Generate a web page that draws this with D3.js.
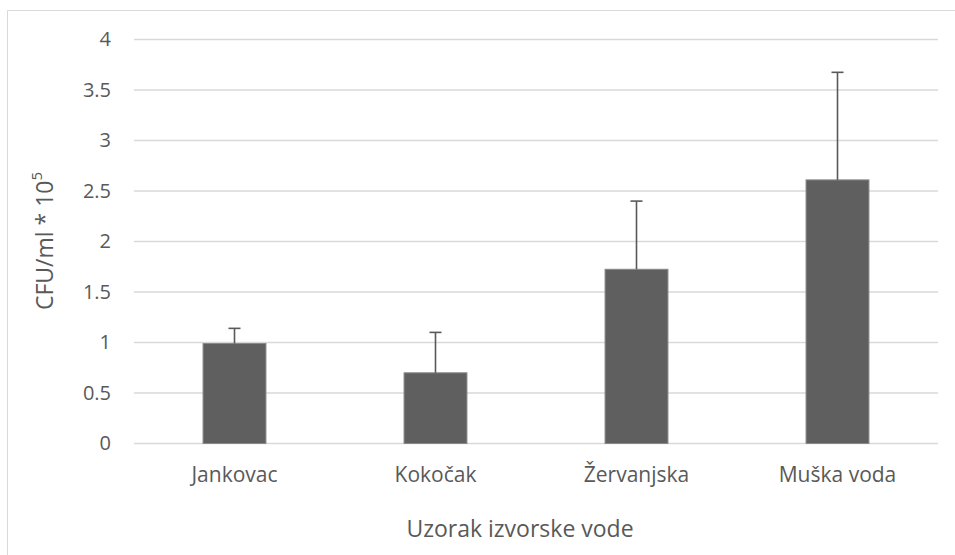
<!DOCTYPE html>
<html>
<head>
<meta charset="utf-8">
<script src="https://cdn.jsdelivr.net/npm/d3@7"></script>
<style>
  html, body { margin: 0; padding: 0; background: #fff; }
  svg { display: block; }
  text { font-family: "Open Sans", "Noto Sans", sans-serif; fill: #595959; }
</style>
</head>
<body>
<svg id="chart" width="955" height="555"></svg>
<script>
// Spring water samples and their bacterial counts (CFU/ml * 10^5)
const categories = ["Jankovac", "Kokočak", "Žervanjska", "Muška voda"];
const means = [0.99, 0.70, 1.725, 2.61];
const errors = [0.15, 0.40, 0.675, 1.065];
const yTicks = [0, 0.5, 1, 1.5, 2, 2.5, 3, 3.5, 4];
const yTickLabels = ["0", "0.5", "1", "1.5", "2", "2.5", "3", "3.5", "4"];

const svg = d3.select("#chart");
const plot = { left: 134, right: 938, top: 39.5, bottom: 443.5 };

// Chart frame
svg.append("path")
  .attr("d", "M7.5,555 V10.5 H955")
  .attr("fill", "none")
  .attr("stroke", "#d9d9d9")
  .attr("stroke-width", 1);

const x = d3.scaleBand()
  .domain(categories)
  .range([plot.left, plot.right])
  .paddingInner(0.687)
  .paddingOuter(0.3435);

const y = d3.scaleLinear()
  .domain([0, 4])
  .range([plot.bottom, plot.top]);

// Horizontal gridlines
svg.append("g")
  .selectAll("line")
  .data(yTicks)
  .join("line")
  .attr("x1", plot.left)
  .attr("x2", plot.right)
  .attr("y1", d => y(d))
  .attr("y2", d => y(d))
  .attr("stroke", "#d9d9d9")
  .attr("stroke-width", 1.5);

// Y axis labels
const yAxis = d3.axisLeft(y)
  .tickValues(yTicks)
  .tickFormat((d, i) => yTickLabels[i])
  .tickSize(0)
  .tickPadding(0);
const gy = svg.append("g")
  .attr("transform", "translate(111,0)")
  .call(yAxis);
gy.select(".domain").remove();
gy.selectAll("text")
  .attr("font-size", 20)
  .attr("font-family", "'Open Sans', sans-serif")
  .attr("fill", "#595959");

// Bars
svg.append("g")
  .selectAll("rect")
  .data(categories)
  .join("rect")
  .attr("x", d => x(d))
  .attr("width", x.bandwidth())
  .attr("y", (d, i) => y(means[i]))
  .attr("height", (d, i) => y(0) - y(means[i]))
  .attr("fill", "#5f5f5f")
  .attr("stroke", "#8a8a8a")
  .attr("stroke-width", 1);

// Upper error bars
const eb = svg.append("g")
  .attr("stroke", "#595959")
  .attr("stroke-width", 1.6);
categories.forEach((c, i) => {
  const cx = x(c) + x.bandwidth() / 2;
  eb.append("line")
    .attr("x1", cx).attr("x2", cx)
    .attr("y1", y(means[i])).attr("y2", y(means[i] + errors[i]));
  eb.append("line")
    .attr("x1", cx - 6).attr("x2", cx + 6)
    .attr("y1", y(means[i] + errors[i])).attr("y2", y(means[i] + errors[i]));
});

// Category labels
const xAxis = d3.axisBottom(x).tickSize(0).tickPadding(0);
const gx = svg.append("g")
  .attr("transform", "translate(0,467)")
  .call(xAxis);
gx.select(".domain").remove();
gx.selectAll("text")
  .attr("font-size", 21)
  .attr("font-family", "'Open Sans', sans-serif")
  .attr("fill", "#595959")
  .attr("dy", "0.71em");

// Axis titles
svg.append("text")
  .attr("x", 520)
  .attr("y", 537)
  .attr("text-anchor", "middle")
  .attr("font-size", 23)
  .text("Uzorak izvorske vode");

const yt = svg.append("text")
  .attr("transform", "translate(53,241) rotate(-90)")
  .attr("text-anchor", "middle")
  .attr("font-size", 23);
yt.append("tspan").text("CFU/ml * 10");
yt.append("tspan")
  .attr("font-size", 15)
  .attr("dy", "-0.75em")
  .text("5");
</script>
</body>
</html>
